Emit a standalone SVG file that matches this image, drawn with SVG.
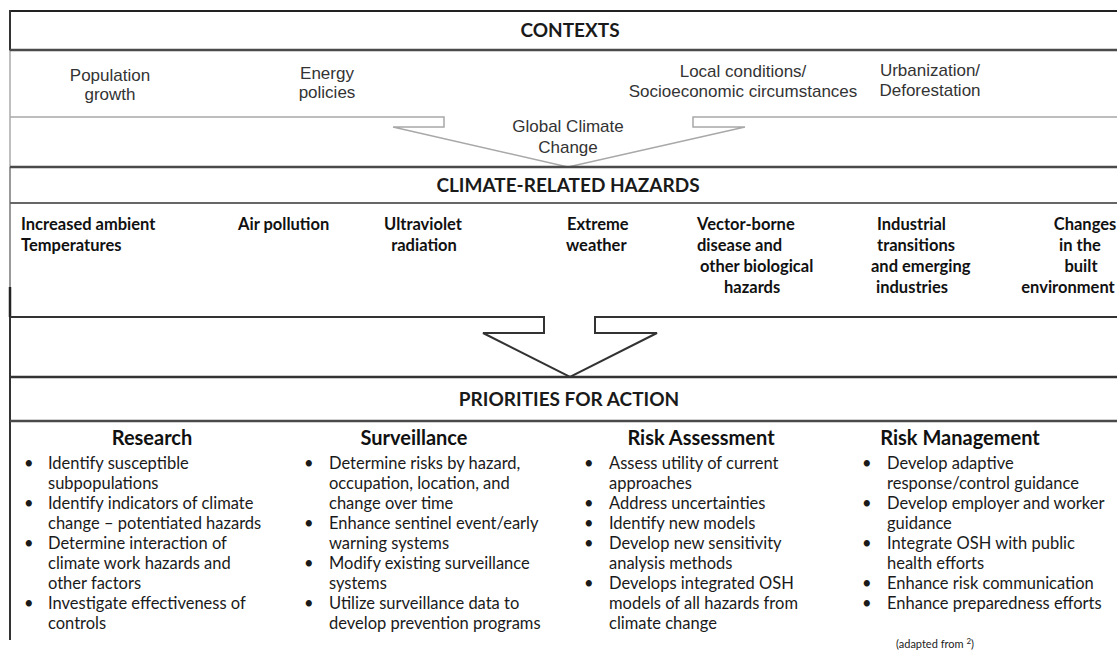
<svg xmlns="http://www.w3.org/2000/svg" width="1117" height="659" viewBox="0 0 1117 659">
<style>
.hdr{font-family:Lato,"Open Sans",sans-serif;font-weight:700;font-size:19px;fill:#1a1a1a;text-anchor:middle}
.ctx{font-family:"Liberation Sans",Arial,sans-serif;font-size:17px;fill:#333;text-anchor:middle}
.hz{font-family:Lato,"Open Sans",sans-serif;font-weight:700;font-size:16.5px;fill:#111}
.colh{font-family:Lato,"Open Sans",sans-serif;font-weight:700;font-size:20px;fill:#111;text-anchor:middle}
.bl{font-family:Lato,"Open Sans",sans-serif;font-size:16.5px;fill:#1a1a1a}
.note{font-family:Lato,"Open Sans",sans-serif;font-size:11px;fill:#222;text-anchor:middle}
.rule{fill:none;stroke:#4a4a4a;stroke-width:2.5}
</style>
<rect width="1117" height="659" fill="#fff"/>

<g id="frame">
<line x1="10" y1="11" x2="1117" y2="11" stroke="#222" stroke-width="2"/>
<line x1="10" y1="10" x2="10" y2="51" stroke="#333" stroke-width="2"/>
<line x1="10" y1="50" x2="10" y2="167" stroke="#aaa" stroke-width="1.5"/>
<line x1="10" y1="167" x2="10" y2="317" stroke="#777" stroke-width="1.5"/>
<line x1="10" y1="287" x2="10" y2="317" stroke="#222" stroke-width="2.5"/>
<line x1="10" y1="317" x2="10" y2="640" stroke="#333" stroke-width="2"/>
</g>

<g id="contexts-header">
<line class="rule" x1="10" y1="50" x2="1117" y2="50"/>
<text class="hdr" x="570" y="37">CONTEXTS</text>
</g>

<g id="ctx-population">
<text class="ctx" x="110" y="81">Population</text>
<text class="ctx" x="110" y="100">growth</text>
</g>
<g id="ctx-energy">
<text class="ctx" x="327" y="79">Energy</text>
<text class="ctx" x="327" y="98">policies</text>
</g>
<g id="ctx-local">
<text class="ctx" x="743" y="77">Local conditions/</text>
<text class="ctx" x="743" y="97">Socioeconomic circumstances</text>
</g>
<g id="ctx-urban">
<text class="ctx" x="930" y="76" text-anchor="start">Urbanization/</text>
<text class="ctx" x="930" y="96" text-anchor="start">Deforestation</text>
</g>

<g id="connectors">
<path d="M10,117 H444 V127 H393 L568,167 L745,127 H693 V117 H1117" fill="none" stroke="#a8a8a8" stroke-width="1.5"/>
<path d="M10,317 H544 V333 H483 L570,377 L657,333 H595 V317 H1117" fill="none" stroke="#333" stroke-width="2"/>
</g>

<g id="global-climate-change">
<text class="ctx" x="568" y="132">Global Climate</text>
<text class="ctx" x="568" y="153">Change</text>
</g>

<g id="hazards-header">
<line class="rule" x1="10" y1="167" x2="1117" y2="167"/>
<line x1="10" y1="203" x2="1117" y2="203" stroke="#666" stroke-width="2"/>
<text class="hdr" x="568" y="192" font-size="18">CLIMATE-RELATED HAZARDS</text>
</g>

<g id="hz-temperature">
<text class="hz" x="21" y="230">Increased ambient</text>
<text class="hz" x="21" y="251">Temperatures</text>
</g>
<g id="hz-air">
<text class="hz" x="238" y="230">Air pollution</text>
</g>
<g id="hz-uv">
<text class="hz" x="423" y="230" text-anchor="middle">Ultraviolet</text>
<text class="hz" x="424" y="251" text-anchor="middle">radiation</text>
</g>
<g id="hz-weather">
<text class="hz" x="567" y="230">Extreme</text>
<text class="hz" x="566" y="251">weather</text>
</g>
<g id="hz-vector">
<text class="hz" x="697" y="230">Vector-borne</text>
<text class="hz" x="697" y="251">disease and</text>
<text class="hz" x="700" y="272">other biological</text>
<text class="hz" x="724" y="293">hazards</text>
</g>
<g id="hz-industrial">
<text class="hz" x="877" y="230">Industrial</text>
<text class="hz" x="877" y="251">transitions</text>
<text class="hz" x="871" y="272">and emerging</text>
<text class="hz" x="876" y="293">industries</text>
</g>
<g id="hz-built">
<text class="hz" x="1085" y="230" text-anchor="middle">Changes</text>
<text class="hz" x="1080" y="251" text-anchor="middle">in the</text>
<text class="hz" x="1081" y="272" text-anchor="middle">built</text>
<text class="hz" x="1068" y="293" text-anchor="middle">environment</text>
</g>

<g id="priorities-header">
<line x1="10" y1="377" x2="1117" y2="377" stroke="#333" stroke-width="2.5"/>
<line class="rule" x1="10" y1="421" x2="1117" y2="421"/>
<text class="hdr" x="569" y="406" font-size="20">PRIORITIES FOR ACTION</text>
</g>

<g id="col-research">
<text class="colh" x="152" y="445">Research</text>
<text class="bl">
<tspan x="24" y="469">•</tspan><tspan x="48" y="469">Identify susceptible</tspan>
<tspan x="48" y="489">subpopulations</tspan>
<tspan x="24" y="509">•</tspan><tspan x="48" y="509">Identify indicators of climate</tspan>
<tspan x="48" y="529">change – potentiated hazards</tspan>
<tspan x="24" y="549">•</tspan><tspan x="48" y="549">Determine interaction of</tspan>
<tspan x="48" y="569">climate work hazards and</tspan>
<tspan x="48" y="589">other factors</tspan>
<tspan x="24" y="609">•</tspan><tspan x="48" y="609">Investigate effectiveness of</tspan>
<tspan x="48" y="629">controls</tspan>
</text>
</g>

<g id="col-surveillance">
<text class="colh" x="414" y="445">Surveillance</text>
<text class="bl">
<tspan x="304" y="469">•</tspan><tspan x="329" y="469">Determine risks by hazard,</tspan>
<tspan x="329" y="489">occupation, location, and</tspan>
<tspan x="329" y="509">change over time</tspan>
<tspan x="304" y="529">•</tspan><tspan x="329" y="529">Enhance sentinel event/early</tspan>
<tspan x="329" y="549">warning systems</tspan>
<tspan x="304" y="569">•</tspan><tspan x="329" y="569">Modify existing surveillance</tspan>
<tspan x="329" y="589">systems</tspan>
<tspan x="304" y="609">•</tspan><tspan x="329" y="609">Utilize surveillance data to</tspan>
<tspan x="329" y="629">develop prevention programs</tspan>
</text>
</g>

<g id="col-risk-assessment">
<text class="colh" x="701" y="445">Risk Assessment</text>
<text class="bl">
<tspan x="584" y="469">•</tspan><tspan x="609" y="469">Assess utility of current</tspan>
<tspan x="609" y="489">approaches</tspan>
<tspan x="584" y="509">•</tspan><tspan x="609" y="509">Address uncertainties</tspan>
<tspan x="584" y="529">•</tspan><tspan x="609" y="529">Identify new models</tspan>
<tspan x="584" y="549">•</tspan><tspan x="609" y="549">Develop new sensitivity</tspan>
<tspan x="609" y="569">analysis methods</tspan>
<tspan x="584" y="589">•</tspan><tspan x="609" y="589">Develops integrated OSH</tspan>
<tspan x="609" y="609">models of all hazards from</tspan>
<tspan x="609" y="629">climate change</tspan>
</text>
</g>

<g id="col-risk-management">
<text class="colh" x="960" y="445">Risk Management</text>
<text class="bl">
<tspan x="862" y="469">•</tspan><tspan x="887" y="469">Develop adaptive</tspan>
<tspan x="887" y="489">response/control guidance</tspan>
<tspan x="862" y="509">•</tspan><tspan x="887" y="509">Develop employer and worker</tspan>
<tspan x="887" y="529">guidance</tspan>
<tspan x="862" y="549">•</tspan><tspan x="887" y="549">Integrate OSH with public</tspan>
<tspan x="887" y="569">health efforts</tspan>
<tspan x="862" y="589">•</tspan><tspan x="887" y="589">Enhance risk communication</tspan>
<tspan x="862" y="609">•</tspan><tspan x="887" y="609">Enhance preparedness efforts</tspan>
</text>
<text class="note" x="935" y="648">(adapted from <tspan font-size="8" dy="-4">2</tspan><tspan dy="4">)</tspan></text>
</g>
</svg>
